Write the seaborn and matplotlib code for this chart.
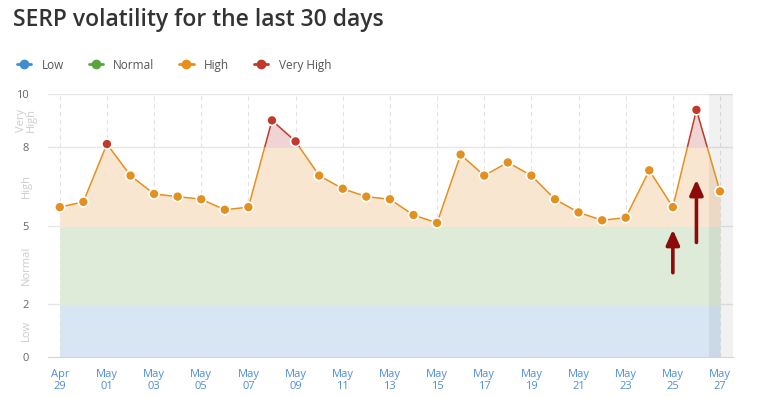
import numpy as np
import pandas as pd
import seaborn as sns
import matplotlib.pyplot as plt
import matplotlib.dates as mdates
from matplotlib.lines import Line2D
from matplotlib.patches import Rectangle

# data
days = pd.date_range("2019-04-29", "2019-05-27", freq="D")
volatility = [5.7, 5.9, 8.1, 6.9, 6.2, 6.1, 6.0, 5.6, 5.7, 9.0, 8.2, 6.9, 6.4, 6.1, 6.0,
              5.4, 5.1, 7.7, 6.9, 7.4, 6.9, 6.0, 5.5, 5.2, 5.3, 7.1, 5.7, 9.4, 6.3]
zone_names = ["Low", "Normal", "High", "Very High"]
zone_edges = [0, 2, 5, 8, 10]
zone_colors = ["#3d8fd1", "#5aa540", "#e3901f", "#c0392b"]
zone_fills = ["#d7e6f2", "#dfebd9", "#f9e6d1", "#f0d3d3"]

df = pd.DataFrame({"day": days, "value": volatility})
df["zone"] = pd.cut(df["value"], zone_edges, labels=zone_names)

sns.set_style("white")
plt.rcParams["font.family"] = ["Open Sans", "DejaVu Sans"]

fig = plt.figure(figsize=(7.58, 3.97), dpi=100)
ax = fig.add_axes([0.0633, 0.1008, 0.9037, 0.6622])

x = mdates.date2num(df["day"])
v = df["value"].to_numpy()

# zone colored area under the line
for lo, hi, fc in zip(zone_edges[:-1], zone_edges[1:], zone_fills):
    poly = ax.fill_between(x, 0, v, color=fc, lw=0, zorder=1)
    poly.set_clip_path(Rectangle((x[0], lo), x[-1] - x[0], hi - lo, transform=ax.transData))

# zone colored line
for lo, hi, lc in zip(zone_edges[:-1], zone_edges[1:], zone_colors):
    ln, = ax.plot(x, v, color=lc, lw=1.1, zorder=3)
    ln.set_clip_path(Rectangle((x[0] - 1, lo), x[-1] - x[0] + 2, hi - lo, transform=ax.transData))

sns.scatterplot(data=df, x="day", y="value", hue="zone", hue_order=zone_names,
                palette=dict(zip(zone_names, zone_colors)), s=52, edgecolor="white",
                linewidth=1.2, legend=False, zorder=4, ax=ax)

# shaded incomplete day
ax.axvspan(x[-1] - 0.47, x[-1] + 0.6, color="black", alpha=0.055, lw=0, zorder=2)

# arrows
for day, y0, y1 in [(x[-3], 3.1, 4.95), (x[-2], 4.25, 6.85)]:
    ax.annotate("", xy=(day, y1), xytext=(day, y0),
                arrowprops=dict(arrowstyle="-|>,head_width=0.4,head_length=0.9",
                                color="#8b0a0a", lw=2.6), zorder=5)

ax.set_xlim(x[0] - 0.5, x[-1] + 0.55)
ax.set_ylim(0, 10)
ax.set_yticks([0, 2, 5, 8, 10])
ax.set_xticks(x[::2])
ax.xaxis.set_major_formatter(mdates.DateFormatter("%b\n%d"))
ax.tick_params(axis="x", colors="#dde3ea", labelcolor="#4e8fd6", labelsize=8, length=5, width=1)
ax.tick_params(axis="y", colors="#666666", labelsize=8, length=0, pad=14)
ax.set_xlabel("")
ax.set_ylabel("")

for t in [2, 5, 8, 10]:
    ax.axhline(t, color="#e6e6e6", lw=1, zorder=0.5)
for xt in x[::2]:
    ax.axvline(xt, color="#e3e3e3", lw=0.8, ls=(0, (4, 3)), zorder=0.5)

for s in ["top", "right", "left"]:
    ax.spines[s].set_visible(False)
ax.spines["bottom"].set_color("#ccd6eb")

# band labels
for txt, yc in [("Low", 1), ("Normal", 3.5), ("High", 6.5), ("Very\nHigh", 9)]:
    ax.text(-0.032, yc, txt, transform=ax.get_yaxis_transform(), rotation=90,
            ha="center", va="center", fontsize=8, color="#cccccc", linespacing=0.85)

fig.text(0.017, 0.95, "SERP volatility for the last 30 days", fontsize=16.5,
         fontweight="semibold", color="#333333", va="center", ha="left")

handles = [Line2D([0], [0], color=c, marker="o", markersize=6, lw=2) for c in zone_colors]
fig.legend(handles, zone_names, loc="center left", bbox_to_anchor=(0.008, 0.836), ncol=4,
           frameon=False, fontsize=8.5, handlelength=1.2, handletextpad=0.9,
           columnspacing=2.1, labelcolor="#555555")

fig.savefig("out.png", dpi=100)
